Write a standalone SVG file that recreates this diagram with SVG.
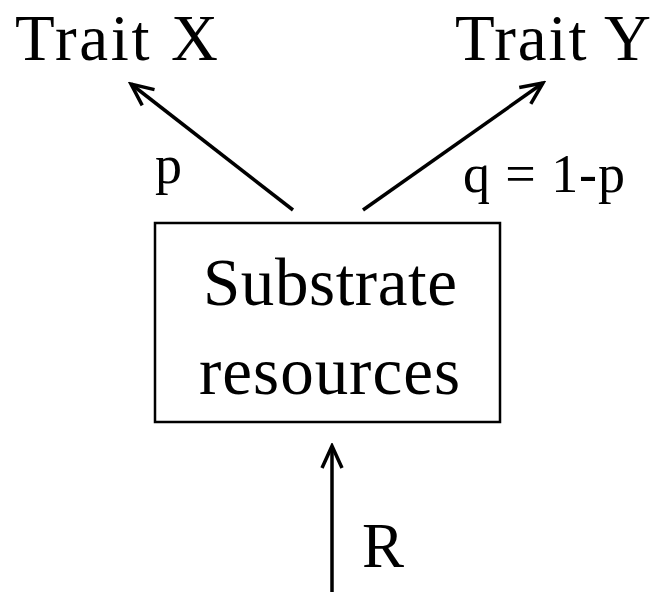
<svg xmlns="http://www.w3.org/2000/svg" width="656" height="592" viewBox="0 0 656 592">
<defs>
<style>
text{font-family:"Liberation Serif","Times New Roman",serif;fill:#000}
.big{font-size:65px}
.lab{font-size:54px}
.node{font-size:67px}
.edge{stroke:#000;stroke-width:3.5;fill:none}
</style>
<marker id="ah" viewBox="-28 -15 31 30" refX="0" refY="0" markerWidth="31" markerHeight="30" markerUnits="userSpaceOnUse" orient="auto">
<path d="M-22,-10 L0,0 L-22,10" fill="none" stroke="#000" stroke-width="3.5" stroke-linejoin="miter"/>
</marker>
</defs>
<rect width="656" height="592" fill="#fff"/>
<g id="traitX"><text class="big" x="15" y="60" textLength="203" lengthAdjust="spacing">Trait X</text></g>
<g id="traitY"><text class="big" x="455" y="60" textLength="196" lengthAdjust="spacing">Trait Y</text></g>
<g id="substrate">
<rect x="155" y="223" width="345" height="199" fill="#fff" stroke="#000" stroke-width="2.5"/>
<text class="node" x="203" y="305" textLength="254" lengthAdjust="spacing">Substrate</text>
<text class="node" x="199" y="394" textLength="261" lengthAdjust="spacing">resources</text>
</g>
<g id="connectors">
<line class="edge" x1="293" y1="210" x2="131" y2="84" marker-end="url(#ah)"/>
<line class="edge" x1="363" y1="210" x2="543" y2="83" marker-end="url(#ah)"/>
<line class="edge" x1="332" y1="592" x2="332" y2="446" marker-end="url(#ah)"/>
<text class="lab" x="155" y="183">p</text>
<text class="lab" x="463" y="192" textLength="162" lengthAdjust="spacing">q = 1-p</text>
<text style="font-size:63px" x="362" y="567">R</text>
</g>
</svg>
